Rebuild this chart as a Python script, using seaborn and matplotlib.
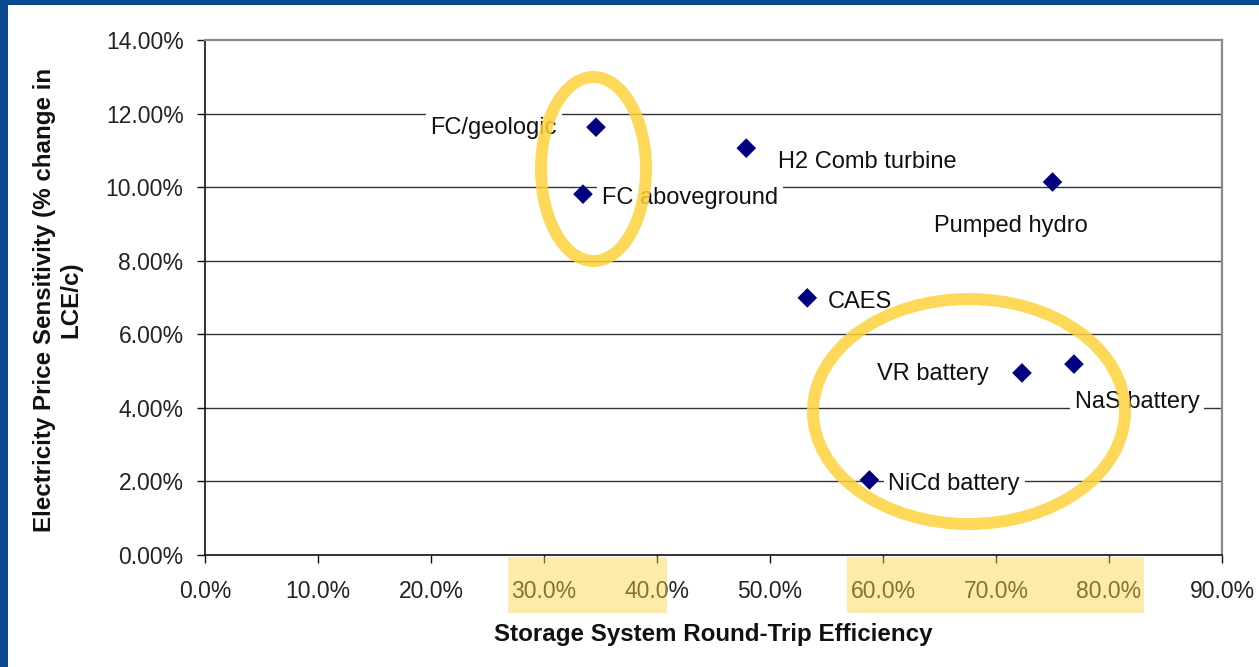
import matplotlib
matplotlib.use("Agg")
import matplotlib.pyplot as plt
from matplotlib.patches import Ellipse, Rectangle
from matplotlib.ticker import FuncFormatter, MultipleLocator
import seaborn as sns
import pandas as pd

# Storage technologies and their metrics (values in percent)
technologies = ["FC/geologic", "FC aboveground", "H2 Comb turbine", "Pumped hydro",
                "CAES", "VR battery", "NaS battery", "NiCd battery"]
round_trip_efficiency = [34.6, 33.45, 47.9, 75.0, 53.3, 72.3, 76.9, 58.8]
price_sensitivity = [11.63, 9.81, 11.06, 10.14, 6.99, 4.95, 5.19, 2.04]

x_ticks = [0, 10, 20, 30, 40, 50, 60, 70, 80, 90]
y_ticks = [0, 2, 4, 6, 8, 10, 12, 14]

df = pd.DataFrame({"tech": technologies,
                   "eff": round_trip_efficiency,
                   "sens": price_sensitivity})

# label placement: (horizontal alignment, dx px, dy px to baseline)
label_offsets = {
    "FC/geologic": ("right", -39, -7),
    "FC aboveground": ("left", 19, -10),
    "H2 Comb turbine": ("left", 32, -20),
    "Pumped hydro": ("left", -118, -50),
    "CAES": ("left", 20, -10),
    "VR battery": ("right", -33, -7),
    "NaS battery": ("left", 1, -44),
    "NiCd battery": ("left", 19, -10),
}

sns.set_theme(style="white")
plt.rcParams["font.family"] = ["Liberation Sans", "DejaVu Sans"]

W, H = 1259, 667
fig = plt.figure(figsize=(W / 100, H / 100), dpi=100)
fig.patch.set_facecolor("#0D4A8F")
# white slide body
fig.add_artist(Rectangle((8 / W, 0), 1 - 8 / W, 1 - 5 / H, transform=fig.transFigure,
                         facecolor="white", edgecolor="none", zorder=0))

ax = fig.add_axes([205 / W, 112 / H, 1017 / W, 515 / H])
ax.set_facecolor("white")

sns.scatterplot(data=df, x="eff", y="sens", marker="D", s=100, color="#000080",
                edgecolor="none", linewidth=0, ax=ax, zorder=4, legend=False)

ax.set_xlim(0, 90)
ax.set_ylim(0, 14)
ax.set_xticks(x_ticks)
ax.set_yticks(y_ticks)
ax.xaxis.set_major_formatter(FuncFormatter(lambda v, p: f"{v:.1f}%"))
ax.yaxis.set_major_formatter(FuncFormatter(lambda v, p: f"{v:.2f}%"))

ax.grid(False)
for yv in y_ticks[1:-1]:
    ax.axhline(yv, color="#333333", lw=1.0, zorder=1)

for side in ["left", "bottom"]:
    ax.spines[side].set_color("#111111")
    ax.spines[side].set_linewidth(1.2)
for side in ["top", "right"]:
    ax.spines[side].set_color("#8a8a8a")
    ax.spines[side].set_linewidth(1.6)

ax.tick_params(axis="both", which="major", direction="out", length=6, width=1.0,
               color="#111111", labelsize=16.5, labelcolor="#222222")
ax.tick_params(axis="y", pad=9.4, left=True)
ax.tick_params(axis="x", pad=12, bottom=True)

ax.set_xlabel("Storage System Round-Trip Efficiency", fontsize=17.4,
              fontweight="bold", color="#111111")
ax.set_ylabel("Electricity Price Sensitivity (% change in\nLCE/c)", fontsize=17.4,
              fontweight="bold", color="#111111", linespacing=1.2)
ax.xaxis.label.set_verticalalignment("center")
ax.xaxis.set_label_coords(0.5, (555 - 634) / 515)
ax.yaxis.label.set_rotation_mode("default")
ax.yaxis.label.set_verticalalignment("center")
ax.yaxis.label.set_horizontalalignment("center")
ax.yaxis.set_label_coords((58 - 205) / 1017, (555 - 300) / 515)

# data labels with white boxes that mask gridlines
for tech, xv, yv in zip(technologies, round_trip_efficiency, price_sensitivity):
    ha, dx, dy = label_offsets[tech]
    ax.annotate(tech, (xv, yv), xytext=(dx, dy), textcoords="offset pixels",
                ha=ha, va="baseline", fontsize=17, color="#111111", zorder=3,
                annotation_clip=False,
                bbox=dict(boxstyle="square,pad=0.2", facecolor="white",
                          edgecolor="none"))

# highlight bands behind tick labels
for x0, x1 in [(508, 667), (847, 1144)]:
    fig.add_artist(Rectangle((x0 / W, (H - 613) / H), (x1 - x0) / W, 56 / H,
                             transform=fig.transFigure, facecolor="#FAD446",
                             edgecolor="none", alpha=0.45, zorder=10))

# circled groups
for cx, cy, w, h in [(593.5, 169, 105, 184), (969, 411.5, 312, 225)]:
    fig.add_artist(Ellipse((cx / W, (H - cy) / H), w / W, h / H,
                           transform=fig.transFigure, facecolor="none",
                           edgecolor="#FDD23C", lw=8.6, alpha=0.85, zorder=11))

fig.savefig("out.png", dpi=100, facecolor=fig.get_facecolor())
